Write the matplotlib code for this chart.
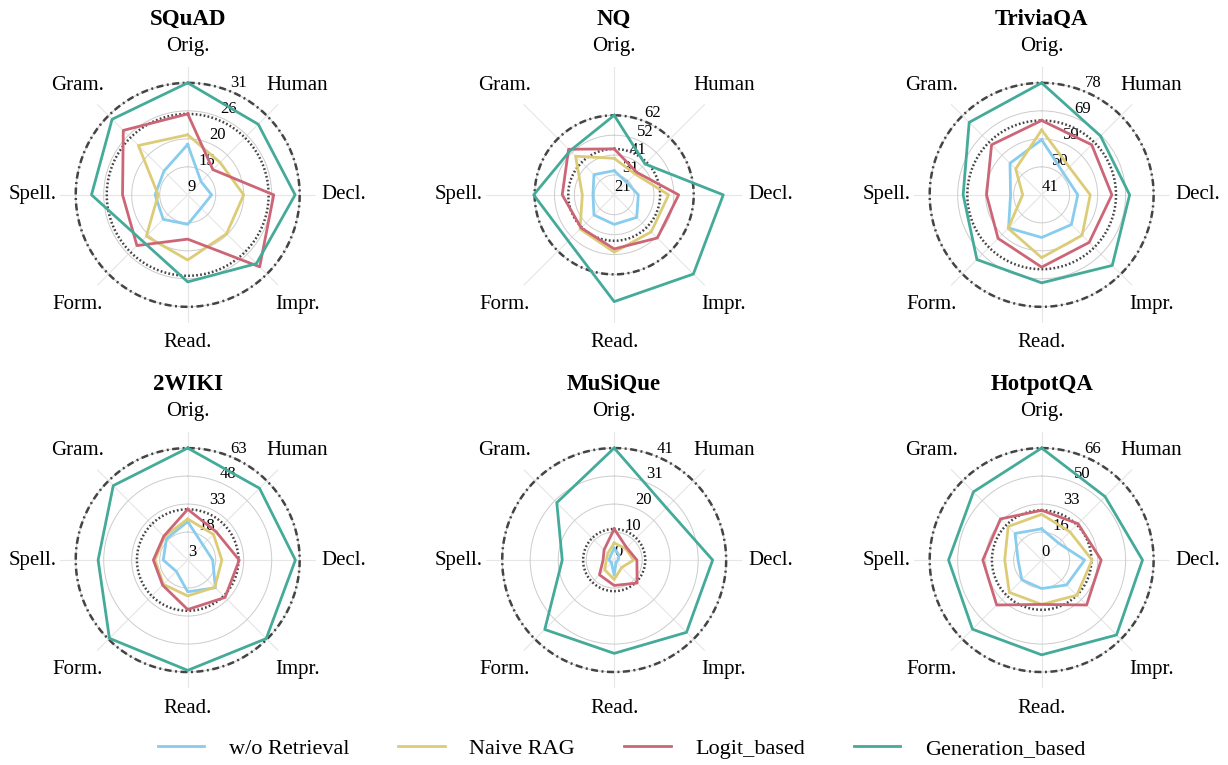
import numpy as np
import matplotlib.pyplot as plt
from matplotlib.lines import Line2D

plt.rcParams['font.family'] = ['Liberation Serif', 'DejaVu Serif']

axis_labels = ['Orig.', 'Human', 'Decl.', 'Impr.', 'Read.', 'Form.', 'Spell.', 'Gram.']
methods = ['w/o Retrieval', 'Naive RAG', 'Logit_based', 'Generation_based']
colors = ['#88CCEE', '#DDCC77', '#CC6677', '#44AA99']
datasets = ['SQuAD', 'NQ', 'TriviaQA', '2WIKI', 'MuSiQue', 'HotpotQA']

# scores per method, in axis_labels order
squad = [
    [19.5, 13.3, 14.3, 13.3, 15.4, 16.4, 16.0, 16.2],
    [21.4, 18.6, 20.6, 20.4, 22.4, 21.1, 15.4, 23.3],
    [25.5, 16.6, 26.5, 29.6, 18.3, 23.7, 22.4, 27.5],
    [31.6, 29.2, 30.7, 28.7, 26.7, 22.3, 28.5, 30.6],
]
nq = [
    [33.7, 30.4, 33.7, 37.7, 36.5, 36.0, 32.2, 36.0],
    [40.1, 36.5, 49.4, 48.3, 50.9, 46.2, 37.7, 49.5],
    [45.0, 37.7, 54.6, 52.8, 49.2, 45.4, 48.1, 54.6],
    [62.4, 43.8, 77.7, 79.2, 76.5, 54.9, 62.9, 53.5],
]
triviaqa = [
    [59.6, 51.4, 53.2, 55.2, 55.4, 56.8, 51.5, 56.1],
    [62.9, 54.2, 57.4, 60.3, 62.2, 57.0, 47.4, 53.4],
    [66.1, 64.9, 64.7, 63.7, 65.4, 61.8, 59.6, 64.9],
    [78.8, 69.1, 70.7, 74.7, 70.7, 71.9, 67.5, 75.6],
]
wiki2 = [
    [24.0, 14.9, 16.8, 24.4, 20.4, 12.0, 16.5, 19.5],
    [25.4, 22.9, 21.7, 24.0, 22.6, 21.8, 20.9, 21.1],
    [30.6, 24.9, 31.0, 31.7, 29.9, 22.4, 21.8, 21.5],
    [63.4, 57.8, 61.1, 62.9, 62.5, 62.7, 51.4, 59.8],
]
musique = [
    [4.4, 2.5, 1.5, 1.0, 5.6, 1.4, 1.9, 2.0],
    [6.3, 6.0, 7.2, 3.9, 7.2, 5.0, 2.9, 3.4],
    [11.5, 6.5, 8.4, 12.0, 9.4, 7.7, 4.1, 5.3],
    [41.4, 27.3, 36.4, 37.8, 34.5, 36.3, 19.2, 30.0],
]
hotpotqa = [
    [18.8, 14.5, 25.8, 21.2, 17.2, 16.9, 14.3, 22.6],
    [27.4, 24.0, 30.2, 29.8, 26.6, 27.4, 22.2, 28.4],
    [29.8, 30.8, 35.6, 38.0, 26.6, 38.0, 35.2, 34.8],
    [66.7, 53.5, 60.1, 63.1, 56.5, 58.3, 55.5, 57.5],
]
all_scores = [squad, nq, triviaqa, wiki2, musique, hotpotqa]

# inner end of the radial axis for each dataset
r_floor = [9.6, 21.2, 41.0, 3.4, 0.0, 0.3]

angles = np.linspace(0, 2 * np.pi, len(axis_labels), endpoint=False)
closed = np.append(angles, angles[0])
ring = np.linspace(0, 2 * np.pi, 361)
label_pads = [4, 9, 10, 9, 4, 9, 9, 9]

fig = plt.figure(figsize=(12.28, 7.65), dpi=100)
fig.set_facecolor('white')

lefts = [0.0486, 0.3959, 0.7440]
bottoms = [0.578, 0.1006]
w, h = 0.2085, 0.3346

for i, name in enumerate(datasets):
    ax = fig.add_axes([lefts[i % 3], bottoms[i // 3], w, h], projection='polar')
    ax.set_theta_zero_location('N')
    ax.set_theta_direction(-1)
    vals = np.array(all_scores[i])
    lo = r_floor[i]
    ref = vals[3][0]
    top = lo + (vals.max() - lo) / 0.875

    ax.set_ylim(lo, top)
    ticks = np.linspace(lo, ref, 5)
    ax.set_yticks(ticks)
    ax.set_yticklabels([str(int(t)) for t in ticks], fontsize=12)
    ax.set_rlabel_position(22.5)
    ax.set_xticks(angles)
    ax.set_xticklabels(axis_labels, fontsize=15)
    for tick, p in zip(ax.xaxis.get_major_ticks(), label_pads):
        tick.set_pad(p)
    ax.yaxis.grid(True, color='#cccccc', lw=0.7)
    ax.xaxis.grid(True, color='#e6e6e6', lw=0.8)
    ax.spines['polar'].set_visible(False)

    # reference rings: Logit_based and Generation_based on the original questions
    ax.plot(ring, np.full_like(ring, vals[2][0]), color='#444444', lw=1.8,
            ls=(0, (0.7, 0.9)), zorder=2)
    ax.plot(ring, np.full_like(ring, ref), color='#444444', lw=1.8,
            ls=(0, (2.8, 1.4, 0.8, 1.4)), zorder=2)

    for k in range(4):
        ax.plot(closed, np.append(vals[k], vals[k][0]), color=colors[k], lw=2, zorder=3)

    ax.text(0.5, 1.165, name, transform=ax.transAxes, ha='center', va='baseline',
            fontsize=16.5, fontweight='bold')

handles = [Line2D([], [], color=c, lw=2) for c in colors]
fig.legend(handles, methods, loc='center', bbox_to_anchor=(0.506, 0.021), ncol=4,
           frameon=False, fontsize=16, handlelength=2.1, columnspacing=2.2,
           handletextpad=1.1)

plt.savefig('out.png', dpi=100)
